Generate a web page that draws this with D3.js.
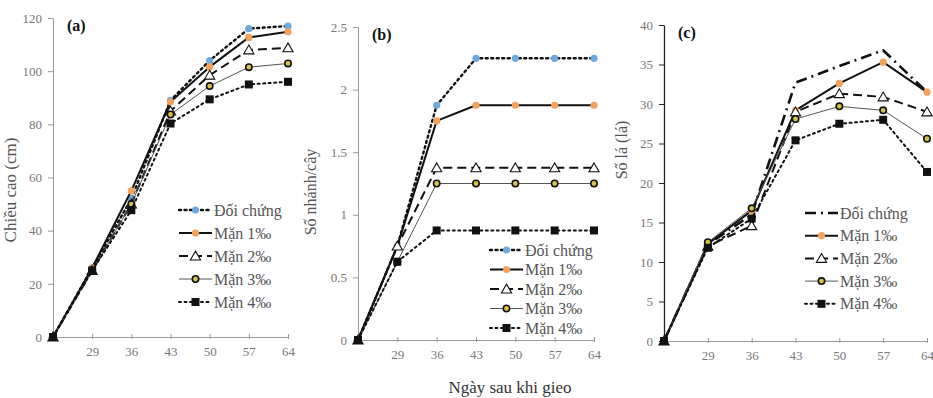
<!DOCTYPE html>
<html>
<head>
<meta charset="utf-8">
<script src="https://cdn.jsdelivr.net/npm/d3@7"></script>
<style>
  body { margin: 0; background: #fff; }
  svg { display: block; }
  svg text { font-family: 'Liberation Serif', 'DejaVu Serif', serif; }
</style>
</head>
<body>
<svg id="chart" width="933" height="398"></svg>
<script>
// category labels (first point is the sowing day, unlabeled)
const days = ['', '29', '36', '43', '50', '57', '64'];
const seriesNames = ['Đối chứng', 'Mặn 1‰', 'Mặn 2‰', 'Mặn 3‰', 'Mặn 4‰'];

// (a) plant height, cm
const heightDC = [0, 26, 52, 89, 104, 116, 117];
const heightM1 = [0, 26, 55, 88.5, 101.6, 112.7, 114.8];
const heightM2 = [0, 25, 50, 85, 98.5, 108, 108.8];
const heightM3 = [0, 25, 50, 83.7, 94.4, 101.5, 102.9];
const heightM4 = [0, 25, 47.7, 80.3, 89.4, 95, 96];

// (b) branches per plant
const branchDC = [0, 0.75, 1.875, 2.25, 2.25, 2.25, 2.25];
const branchM1 = [0, 0.75, 1.75, 1.875, 1.875, 1.875, 1.875];
const branchM2 = [0, 0.75, 1.375, 1.375, 1.375, 1.375, 1.375];
const branchM3 = [0, 0.625, 1.25, 1.25, 1.25, 1.25, 1.25];
const branchM4 = [0, 0.625, 0.875, 0.875, 0.875, 0.875, 0.875];

// (c) leaves per plant
const leafDC = [0, 12.2, 16, 32.7, 34.8, 36.8, 31.5];
const leafM1 = [0, 12.3, 16.5, 29.2, 32.6, 35.3, 31.5];
const leafM2 = [0, 12, 14.6, 29, 31.3, 30.9, 29];
const leafM3 = [0, 12.5, 16.8, 28.1, 29.7, 29.2, 25.6];
const leafM4 = [0, 11.8, 15.5, 25.4, 27.5, 28, 21.4];

const heightTicks = [0, 20, 40, 60, 80, 100, 120];
const branchTicks = [0, 0.5, 1, 1.5, 2, 2.5];
const leafTicks = [0, 5, 10, 15, 20, 25, 30, 35, 40];

const serif = "'Liberation Serif', 'DejaVu Serif', serif";
const svg = d3.select('#chart');

// line + marker look of each series
const styles = [
  { stroke: '#111', width: 2.4, dash: '2,3.5', cap: 'round', marker: 'circle', fill: '#6fa8dc', mstroke: 'none' },
  { stroke: '#111', width: 2, dash: null, marker: 'circle', fill: '#f2a25c', mstroke: 'none' },
  { stroke: '#111', width: 2, dash: '9,5', marker: 'triangle', fill: '#fff', mstroke: '#111' },
  { stroke: '#555', width: 1, dash: null, marker: 'ring', fill: '#d8c24a', mstroke: '#111' },
  { stroke: '#111', width: 2, dash: '2,3.5', cap: 'round', marker: 'square', fill: '#111', mstroke: 'none' },
];
// panel (c) draws the control as a dash-dot line without markers
const dashDotControl = { stroke: '#111', width: 2.6, dash: '11,5,2,5', marker: null };

function drawMarker(g, st, x, y) {
  if (st.marker === 'circle') {
    g.append('circle').attr('cx', x).attr('cy', y).attr('r', 3.6).attr('fill', st.fill);
  } else if (st.marker === 'ring') {
    g.append('circle').attr('cx', x).attr('cy', y).attr('r', 3.2)
      .attr('fill', st.fill).attr('stroke', st.mstroke).attr('stroke-width', 1.6);
  } else if (st.marker === 'triangle') {
    g.append('path').attr('d', d3.symbol(d3.symbolTriangle, 45)())
      .attr('transform', `translate(${x},${y + 1})`)
      .attr('fill', st.fill).attr('stroke', st.mstroke).attr('stroke-width', 1.1);
  } else if (st.marker === 'square') {
    g.append('rect').attr('x', x - 4).attr('y', y - 4).attr('width', 8).attr('height', 8).attr('fill', st.fill);
  }
}

function drawPanel(p) {
  const g = svg.append('g');
  const x = d3.scalePoint().domain(d3.range(days.length)).range([p.x0, p.x1]);
  const y = d3.scaleLinear().domain([0, p.max]).range([p.y0, p.y1]);

  // y axis
  const ya = g.append('g').attr('transform', `translate(${p.x0},0)`)
    .call(d3.axisLeft(y).tickValues(p.ticks).tickSizeInner(5).tickSizeOuter(0).tickPadding(6).tickFormat(d3.format('')));
  ya.attr('font-family', serif);
  ya.select('.domain').attr('stroke', p.axisColor).attr('stroke-width', p.axisWidth);
  ya.selectAll('.tick line').attr('stroke', p.axisColor);
  ya.selectAll('.tick text').attr('fill', '#777').attr('font-size', 13);

  // x axis
  const xa = g.append('g').attr('transform', `translate(0,${p.y0})`)
    .call(d3.axisBottom(x).tickSizeInner(3).tickSizeOuter(0).tickPadding(7).tickFormat(i => days[i]));
  xa.attr('font-family', serif);
  xa.select('.domain').attr('stroke', '#999');
  xa.selectAll('.tick line').attr('stroke', '#999').attr('y1', -3).attr('y2', 2);
  xa.selectAll('.tick text').attr('fill', '#777').attr('font-size', 13);

  // series
  const line = d3.line().x((d, i) => x(i)).y(d => y(d));
  p.series.forEach((vals, s) => {
    const st = (s === 0 && p.controlStyle) ? p.controlStyle : styles[s];
    g.append('path').datum(vals).attr('d', line)
      .attr('fill', 'none').attr('stroke', st.stroke).attr('stroke-width', st.width)
      .attr('stroke-dasharray', st.dash).attr('stroke-linecap', st.cap || 'butt')
      .attr('stroke-linejoin', 'round');
    const mg = g.append('g');
    vals.forEach((v, i) => drawMarker(mg, st, x(i), y(v)));
  });

  // panel letter
  g.append('text').attr('x', p.x0 + 14).attr('y', p.y1 + 13).attr('font-family', serif)
    .attr('font-size', 16).attr('font-weight', 'bold').attr('fill', '#111').text(p.label);

  // y title
  g.append('text').attr('transform', `translate(${p.titleX},${p.titleY}) rotate(-90)`)
    .attr('font-family', serif)
    .attr('text-anchor', 'middle').attr('font-size', p.titleSize).attr('fill', '#555').text(p.title);

  // legend
  const lg = g.append('g');
  seriesNames.forEach((name, s) => {
    const st = (s === 0 && p.controlStyle) ? p.controlStyle : styles[s];
    const ly = p.legY + s * p.legStep;
    lg.append('line').attr('x1', p.legX).attr('x2', p.legX + 33).attr('y1', ly).attr('y2', ly)
      .attr('stroke', st.stroke).attr('stroke-width', st.width)
      .attr('stroke-dasharray', st.dash).attr('stroke-linecap', st.cap || 'butt');
    drawMarker(lg, st, p.legX + 16.5, ly);
    lg.append('text').attr('x', p.legX + 35).attr('y', ly).attr('dy', '0.35em')
      .attr('font-family', serif)
      .attr('font-size', 16).attr('fill', '#555').text(name);
  });
}

drawPanel({
  label: '(a)', x0: 53, x1: 288, y0: 337, y1: 18, max: 120, ticks: heightTicks,
  series: [heightDC, heightM1, heightM2, heightM3, heightM4],
  axisColor: '#999', axisWidth: 1,
  title: 'Chiều cao (cm)', titleX: 16, titleY: 190, titleSize: 17,
  legX: 179, legY: 210, legStep: 23,
});

drawPanel({
  label: '(b)', x0: 358, x1: 594, y0: 340, y1: 27, max: 2.5, ticks: branchTicks,
  series: [branchDC, branchM1, branchM2, branchM3, branchM4],
  axisColor: '#999', axisWidth: 1,
  title: 'Số nhánh/cây', titleX: 316, titleY: 192, titleSize: 16,
  legX: 490, legY: 250, legStep: 19.5,
});

drawPanel({
  label: '(c)', x0: 664, x1: 927, y0: 341, y1: 25, max: 40, ticks: leafTicks,
  series: [leafDC, leafM1, leafM2, leafM3, leafM4],
  controlStyle: dashDotControl,
  axisColor: '#222', axisWidth: 1.3,
  title: 'Số lá (lá)', titleX: 627, titleY: 150, titleSize: 16,
  legX: 805, legY: 213, legStep: 22.7,
});

// shared x title
svg.append('text').attr('x', 510).attr('y', 393).attr('text-anchor', 'middle')
  .attr('font-family', serif)
  .attr('font-size', 17).attr('fill', '#333').text('Ngày sau khi gieo');
</script>
</body>
</html>
